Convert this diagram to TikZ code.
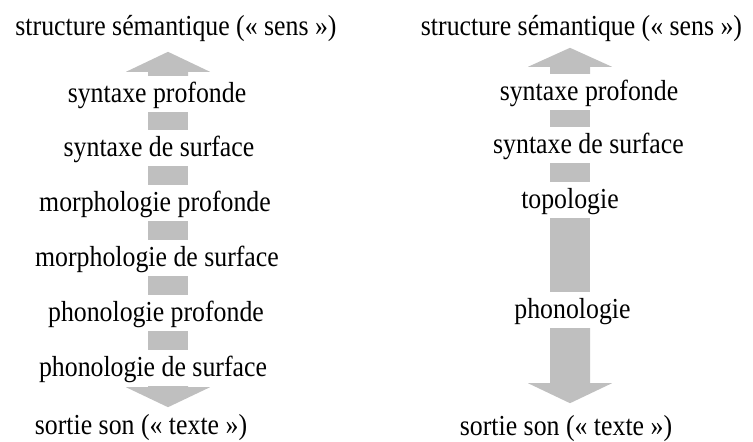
\documentclass[tikz,border=0pt]{standalone}
\usepackage{fontspec}
\setmainfont{Liberation Serif}[FakeStretch=0.89]
\begin{document}
\begin{tikzpicture}[x=1pt,y=-1pt,
  lvl/.style={anchor=base, inner sep=0pt, text height=26pt, text depth=10pt, font=\fontsize{29}{33}\selectfont},
  seg/.style={fill=black!25!white, draw=none}]
\useasboundingbox (0,0) rectangle (753,442);
\coordinate (axL) at (168,0);
\coordinate (axR) at (570,0);
% left column
\node[lvl] (tL) at (176,35) {structure sémantique (« sens »)};
\node[lvl] (L1) at (157,102) {syntaxe profonde};
\node[lvl] (L2) at (159,156) {syntaxe de surface};
\node[lvl] (L3) at (155,211) {morphologie profonde};
\node[lvl] (L4) at (157,266) {morphologie de surface};
\node[lvl] (L5) at (156,321) {phonologie profonde};
\node[lvl] (L6) at (153,376) {phonologie de surface};
\node[lvl] (bL) at (141,434) {sortie son (« texte »)};
% right column
\node[lvl] (tR) at (581.5,35) {structure sémantique (« sens »)};
\node[lvl] (R1) at (589,100) {syntaxe profonde};
\node[lvl] (R2) at (588.5,153) {syntaxe de surface};
\node[lvl] (R3) at (570,208) {topologie};
\node[lvl] (R4) at (572.5,318) {phonologie};
\node[lvl] (bR) at (566,435) {sortie son (« texte »)};
% left arrow
\fill[seg] (axL |- L1.north) ++(-20,0) -- ++(0,-4) -- ++(-22,0) -- ++(42,-20) -- ++(42,20) -- ++(-22,0) -- ++(0,4) -- cycle;
\foreach \a/\b in {L1/L2,L2/L3,L3/L4,L4/L5,L5/L6}
  \fill[seg] ([xshift=-20pt]axL |- \a.south) rectangle ([xshift=20pt]axL |- \b.north);
\fill[seg] (axL |- L6.south) ++(-20,0) -- ++(0,1) -- ++(-22,0) -- ++(42,20) -- ++(42,-20) -- ++(-22,0) -- ++(0,-1) -- cycle;
% right arrow
\fill[seg] (axR |- R1.north) ++(-20,0) -- ++(0,-7) -- ++(-22,0) -- ++(42,-19) -- ++(42,19) -- ++(-22,0) -- ++(0,7) -- cycle;
\foreach \a/\b in {R1/R2,R2/R3,R3/R4}
  \fill[seg] ([xshift=-20pt]axR |- \a.south) rectangle ([xshift=20pt]axR |- \b.north);
\fill[seg] (axR |- R4.south) ++(-20,0) -- ++(0,55) -- ++(-22,0) -- ++(42,20) -- ++(42,-20) -- ++(-22,0) -- ++(0,-55) -- cycle;
\end{tikzpicture}
\end{document}
